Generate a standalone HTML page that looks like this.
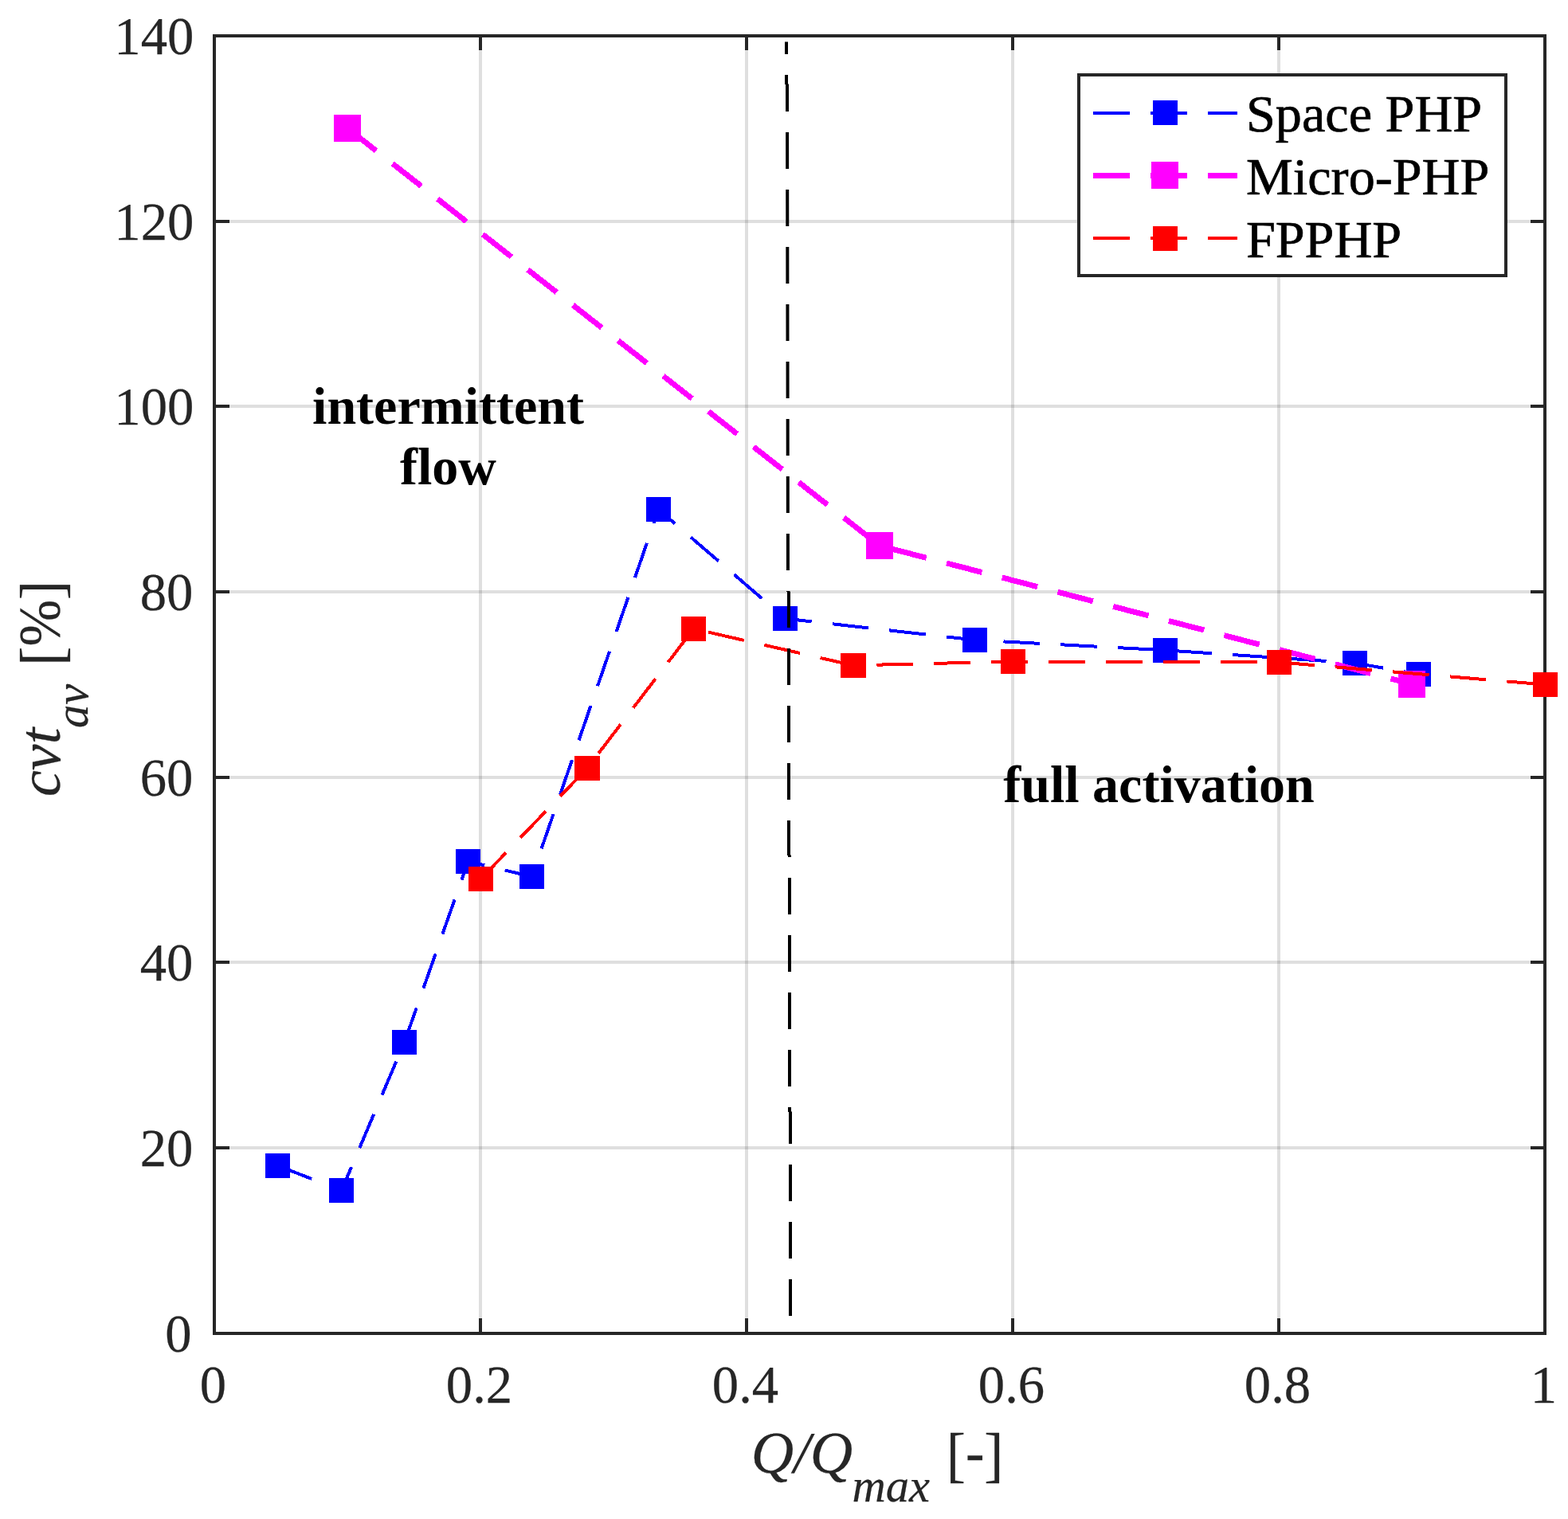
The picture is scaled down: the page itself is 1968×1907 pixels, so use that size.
<!DOCTYPE html>
<html lang="en"><head><meta charset="utf-8"><title>cvt vs Q/Qmax</title>
<style>html,body{margin:0;padding:0;background:#fff}body{width:1968px;height:1907px;overflow:hidden}svg{display:block}text{font-family:"Liberation Serif",serif}</style>
</head><body>
<svg width="1968" height="1907" viewBox="0 0 1968 1907">
<rect width="1968" height="1907" fill="#fff"/>
<g stroke="#262626" stroke-opacity="0.15" stroke-width="4" fill="none" shape-rendering="crispEdges">
<line x1="603" y1="47" x2="603" y2="1672"/>
<line x1="937" y1="47" x2="937" y2="1672"/>
<line x1="1271" y1="47" x2="1271" y2="1672"/>
<line x1="1605" y1="47" x2="1605" y2="1672"/>
<line x1="271" y1="1441" x2="1937" y2="1441"/>
<line x1="271" y1="1208" x2="1937" y2="1208"/>
<line x1="271" y1="976" x2="1937" y2="976"/>
<line x1="271" y1="743" x2="1937" y2="743"/>
<line x1="271" y1="510" x2="1937" y2="510"/>
<line x1="271" y1="278" x2="1937" y2="278"/>
</g>
<g stroke="#262626" stroke-width="4" fill="none" shape-rendering="crispEdges">
<rect x="269" y="45" width="1670" height="1629"/>
<line x1="603" y1="1674" x2="603" y2="1655"/>
<line x1="603" y1="45" x2="603" y2="63"/>
<line x1="937" y1="1674" x2="937" y2="1655"/>
<line x1="937" y1="45" x2="937" y2="63"/>
<line x1="1271" y1="1674" x2="1271" y2="1655"/>
<line x1="1271" y1="45" x2="1271" y2="63"/>
<line x1="1605" y1="1674" x2="1605" y2="1655"/>
<line x1="1605" y1="45" x2="1605" y2="63"/>
<line x1="269" y1="1441" x2="288" y2="1441"/>
<line x1="1939" y1="1441" x2="1921" y2="1441"/>
<line x1="269" y1="1208" x2="288" y2="1208"/>
<line x1="1939" y1="1208" x2="1921" y2="1208"/>
<line x1="269" y1="976" x2="288" y2="976"/>
<line x1="1939" y1="976" x2="1921" y2="976"/>
<line x1="269" y1="743" x2="288" y2="743"/>
<line x1="1939" y1="743" x2="1921" y2="743"/>
<line x1="269" y1="510" x2="288" y2="510"/>
<line x1="1939" y1="510" x2="1921" y2="510"/>
<line x1="269" y1="278" x2="288" y2="278"/>
<line x1="1939" y1="278" x2="1921" y2="278"/>
</g>
<g fill="#262626" stroke="#262626" stroke-width="0.25" font-size="66.67px">
<text x="267.5" y="1761" text-anchor="middle">0</text>
<text x="601.5" y="1761" text-anchor="middle">0.2</text>
<text x="935.5" y="1761" text-anchor="middle">0.4</text>
<text x="1269.5" y="1761" text-anchor="middle">0.6</text>
<text x="1603.5" y="1761" text-anchor="middle">0.8</text>
<text x="1937.5" y="1761" text-anchor="middle">1</text>
<text x="240.6" y="1697" text-anchor="end">0</text>
<text x="242.3" y="1464" text-anchor="end">20</text>
<text x="242.3" y="1231" text-anchor="end">40</text>
<text x="242.3" y="999" text-anchor="end">60</text>
<text x="242.3" y="766" text-anchor="end">80</text>
<text x="243.3" y="533" text-anchor="end">100</text>
<text x="243.3" y="301" text-anchor="end">120</text>
<text x="243.3" y="68" text-anchor="end">140</text>
</g>
<g fill="#262626" stroke="#262626" stroke-width="0.25">
<text x="942.7" y="1848.5" font-size="74px" font-style="italic">Q/Q</text>
<text x="1069.6" y="1884.5" font-size="58.5px" font-style="italic">max</text>
<text transform="translate(1223.6,0) scale(0.952,1) translate(-1223.6,0)" x="1186" y="1848.5" font-size="74px"><tspan dy="3.3" font-size="76px">[</tspan><tspan dy="-3.3">-</tspan><tspan dy="3.3" font-size="76px">]</tspan></text>
<g transform="translate(75,0) rotate(-90)">
<text x="-1000" y="0" font-size="74px" font-style="italic">cvt</text>
<text x="-914" y="35" font-size="58.5px" font-style="italic">av</text>
<text transform="translate(-782.3,0) scale(0.952,1) translate(782.3,0)" x="-838.4" y="0" font-size="74px"><tspan dy="3.3" font-size="76px">[</tspan><tspan dy="-3.3">%</tspan><tspan dy="3.3" font-size="76px">]</tspan></text>
</g></g>
<path d="M348.5 1463.4 L428.6 1494.5 L507.55 1308.5 L587.5 1081.5 L667.5 1100.5 L826.5 639.5 L985.6 776.6 L1223.5 803.5 L1462.5 816.3 L1700.5 832.4 L1780.5 846.4" fill="none" stroke="#0000ff" stroke-width="4" stroke-dasharray="45.8 26.2" shape-rendering="crispEdges"/>
<g fill="#0000ff" shape-rendering="crispEdges">
<rect x="333" y="1448" width="31" height="31"/>
<rect x="413" y="1479" width="31" height="31"/>
<rect x="492" y="1293" width="31" height="31"/>
<rect x="572" y="1066" width="31" height="31"/>
<rect x="652" y="1085" width="31" height="31"/>
<rect x="811" y="624" width="31" height="31"/>
<rect x="970" y="761" width="31" height="31"/>
<rect x="1208" y="788" width="31" height="31"/>
<rect x="1447" y="801" width="31" height="31"/>
<rect x="1685" y="817" width="31" height="31"/>
<rect x="1765" y="831" width="31" height="31"/>
</g>
<path d="M436 160.9 L1104 685.1 L1772 858.9" fill="none" stroke="#ff00ff" stroke-width="7" stroke-dasharray="45.8 26.2" shape-rendering="crispEdges"/>
<g fill="#ff00ff" shape-rendering="crispEdges">
<rect x="419" y="144" width="34" height="34"/>
<rect x="1087" y="668" width="34" height="34"/>
<rect x="1755" y="842" width="34" height="34"/>
</g>
<path d="M603.5 1103.4 L737 964.4 L870.6 789.4 L1071 835.4 L1271.5 830.5 L1605.5 831.4 L1939.5 859.5" fill="none" stroke="#ff0000" stroke-width="4" stroke-dasharray="45.8 26.2" shape-rendering="crispEdges"/>
<g fill="#ff0000" shape-rendering="crispEdges">
<rect x="588" y="1088" width="31" height="31"/>
<rect x="721" y="949" width="32" height="31"/>
<rect x="855" y="774" width="31" height="31"/>
<rect x="1055" y="820" width="32" height="31"/>
<rect x="1256" y="815" width="31" height="31"/>
<rect x="1590" y="816" width="31" height="31"/>
<rect x="1924" y="844" width="31" height="31"/>
</g>
<g stroke="#000" stroke-width="4" fill="none" stroke-dasharray="46 26">
<line x1="987" y1="52.5" x2="987" y2="106" stroke-dashoffset="30.5"/>
<line x1="988" y1="105.5" x2="989" y2="743" stroke-dashoffset="11.5"/>
<line x1="990" y1="742.5" x2="990" y2="1074" stroke-dashoffset="0.5"/>
<line x1="991" y1="1073.5" x2="991" y2="1396" stroke-dashoffset="43.5"/>
<line x1="992" y1="1395.5" x2="992" y2="1652" stroke-dashoffset="5.5"/>
</g>
<g fill="#000" font-weight="bold" font-size="66px" text-anchor="middle">
<text x="562.5" y="531.8">intermittent</text>
<text x="562.5" y="608">flow</text>
<text x="1454.5" y="1007.4">full activation</text>
</g>
<rect x="1354" y="94" width="536" height="252" fill="#fff" stroke="#262626" stroke-width="4"/>
<line x1="1372" y1="142" x2="1553" y2="142" stroke="#0000ff" stroke-width="4" stroke-dasharray="46 26" shape-rendering="crispEdges"/>
<rect x="1447" y="126" width="31" height="31" fill="#0000ff" shape-rendering="crispEdges"/>
<text x="1564" y="165.1" fill="#000" stroke="#000" stroke-width="0.7" font-size="66.2px">Space PHP</text>
<line x1="1372" y1="220.5" x2="1553" y2="220.5" stroke="#ff00ff" stroke-width="7" stroke-dasharray="46 26" shape-rendering="crispEdges"/>
<rect x="1445" y="203" width="34" height="34" fill="#ff00ff" shape-rendering="crispEdges"/>
<text x="1564" y="243.9" fill="#000" stroke="#000" stroke-width="0.7" font-size="66.2px">Micro-PHP</text>
<line x1="1372" y1="299" x2="1553" y2="299" stroke="#ff0000" stroke-width="4" stroke-dasharray="46 26" shape-rendering="crispEdges"/>
<rect x="1447" y="284" width="31" height="31" fill="#ff0000" shape-rendering="crispEdges"/>
<text x="1564" y="322.8" fill="#000" stroke="#000" stroke-width="0.7" font-size="66.2px">FPPHP</text>
</svg>
</body></html>
